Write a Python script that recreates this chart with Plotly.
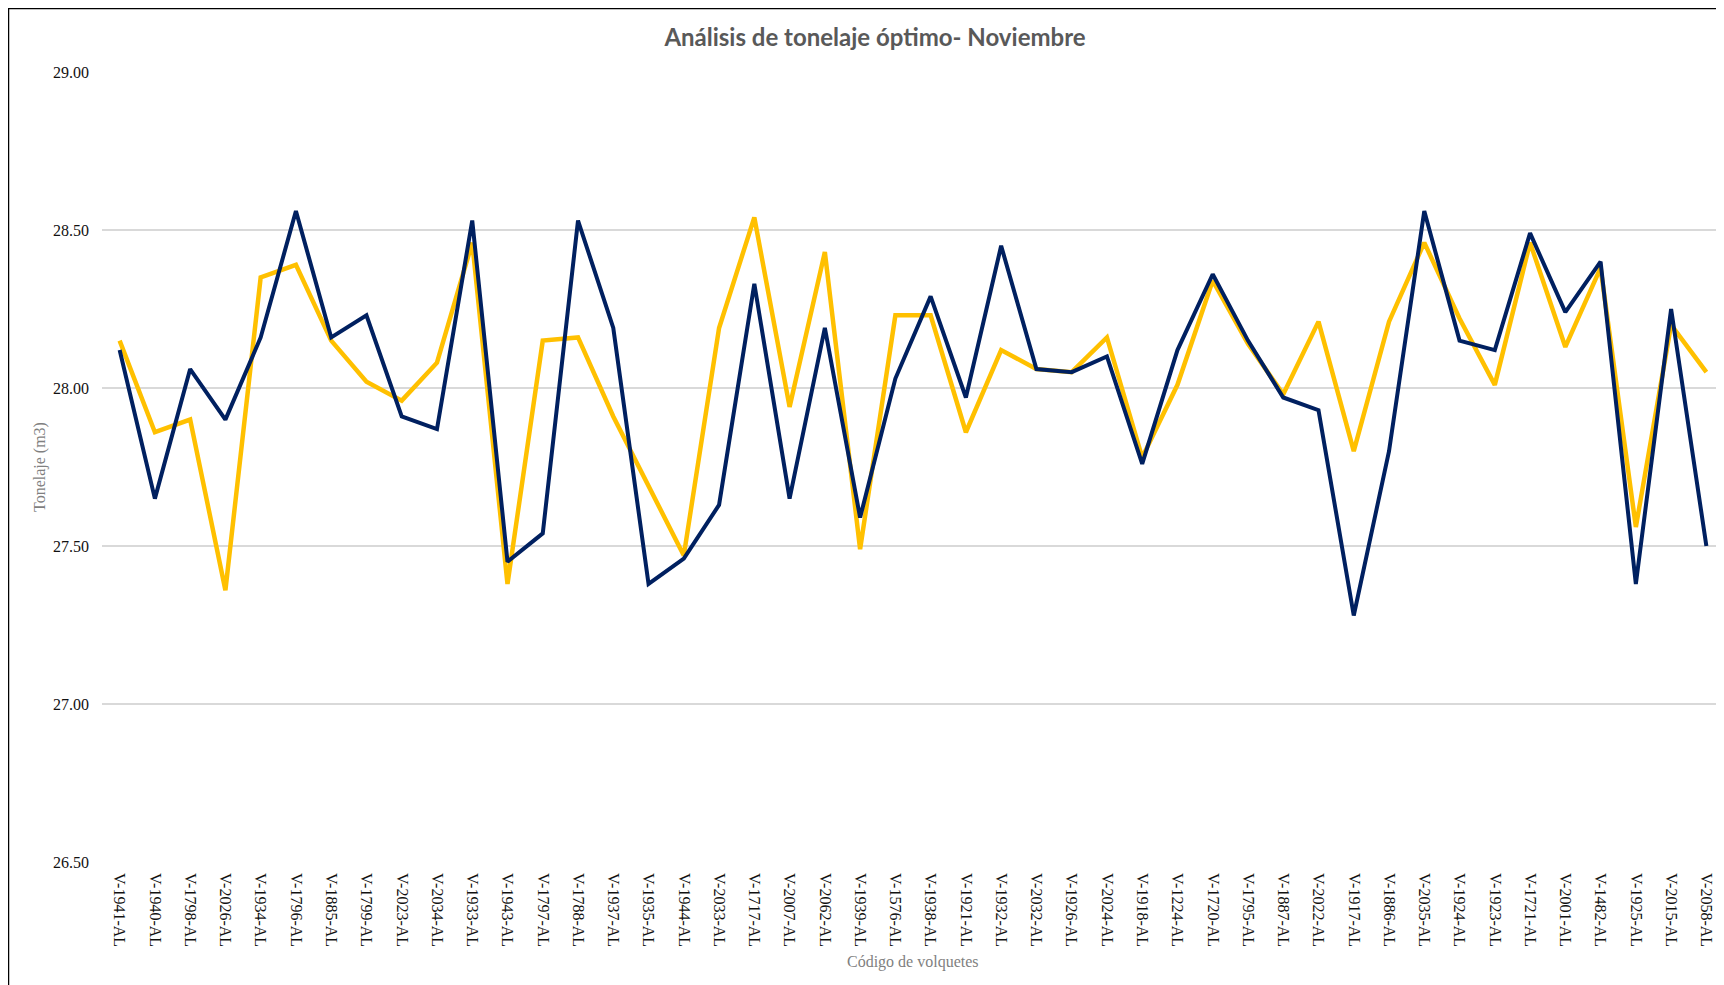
import plotly.graph_objects as go

# codigos de volquetes (eje x)
volquetes = [
    "V-1941-AL", "V-1940-AL", "V-1798-AL", "V-2026-AL", "V-1934-AL", "V-1796-AL",
    "V-1885-AL", "V-1799-AL", "V-2023-AL", "V-2034-AL", "V-1933-AL", "V-1943-AL",
    "V-1797-AL", "V-1788-AL", "V-1937-AL", "V-1935-AL", "V-1944-AL", "V-2033-AL",
    "V-1717-AL", "V-2007-AL", "V-2062-AL", "V-1939-AL", "V-1576-AL", "V-1938-AL",
    "V-1921-AL", "V-1932-AL", "V-2032-AL", "V-1926-AL", "V-2024-AL", "V-1918-AL",
    "V-1224-AL", "V-1720-AL", "V-1795-AL", "V-1887-AL", "V-2022-AL", "V-1917-AL",
    "V-1886-AL", "V-2035-AL", "V-1924-AL", "V-1923-AL", "V-1721-AL", "V-2001-AL",
    "V-1482-AL", "V-1925-AL", "V-2015-AL", "V-2058-AL",
]

# serie amarilla
tonelaje_amarillo = [
    28.15, 27.86, 27.90, 27.36, 28.35, 28.39, 28.15, 28.02, 27.96, 28.08,
    28.46, 27.38, 28.15, 28.16, 27.91, 27.69, 27.47, 28.19, 28.54, 27.94,
    28.43, 27.49, 28.23, 28.23, 27.86, 28.12, 28.06, 28.05, 28.16, 27.78,
    28.01, 28.34, 28.14, 27.98, 28.21, 27.80, 28.21, 28.46, 28.22, 28.01,
    28.46, 28.13, 28.38, 27.56, 28.20, 28.05,
]

# serie azul
tonelaje_azul = [
    28.12, 27.65, 28.06, 27.90, 28.16, 28.56, 28.16, 28.23, 27.91, 27.87,
    28.53, 27.45, 27.54, 28.53, 28.19, 27.38, 27.46, 27.63, 28.33, 27.65,
    28.19, 27.59, 28.03, 28.29, 27.97, 28.45, 28.06, 28.05, 28.10, 27.76,
    28.12, 28.36, 28.15, 27.97, 27.93, 27.28, 27.80, 28.56, 28.15, 28.12,
    28.49, 28.24, 28.40, 27.38, 28.25, 27.50,
]

y_ticks = [26.5, 27.0, 27.5, 28.0, 28.5, 29.0]

# la pagina html deja 8px de margen, asi que la figura es algo mas chica
OFF = 8
W, H = 1724 - OFF, 985 - OFF
L, R, T, B = 102 - OFF, 0, 72 - OFF, 985 - 862
pw, ph = W - L - R, H - T - B


def px_x(x):
    # pixel de pantalla -> coordenada paper
    return (x - OFF - L) / pw


def px_y(y):
    return (T + ph - (y - OFF)) / ph


fig = go.Figure()
fig.add_trace(go.Scatter(
    x=volquetes, y=tonelaje_amarillo, mode="lines",
    line=dict(color="#FFC000", width=4.5), name="Amarillo"
))
fig.add_trace(go.Scatter(
    x=volquetes, y=tonelaje_azul, mode="lines",
    line=dict(color="#002060", width=4), name="Azul"
))

serif = "Liberation Serif"

fig.update_layout(
    width=W, height=H,
    margin=dict(l=L, r=R, t=T, b=B),
    paper_bgcolor="white", plot_bgcolor="white",
    showlegend=False,
    title=dict(
        text="<b>Análisis de tonelaje óptimo- Noviembre</b>",
        font=dict(family="Lato", size=24, color="#595959"),
        xref="container", x=(875 - OFF) / W, xanchor="center",
        yref="container", y=1 - (38 - OFF) / H, yanchor="middle",
    ),
    xaxis=dict(
        tickangle=90, tickfont=dict(family=serif, size=16, color="#111111"),
        showgrid=False, zeroline=False, showline=False, ticks="",
        range=[-0.5, len(volquetes) - 0.5],
        ticklabelstandoff=10,
    ),
    yaxis=dict(
        range=[26.5, 29.0], tickvals=y_ticks, tickformat=".2f",
        tickfont=dict(family=serif, size=16, color="#111111"),
        gridcolor="#d9d9d9", gridwidth=1.5, zeroline=False, showline=False,
        ticklabelstandoff=12,
    ),
    annotations=[
        dict(text="Tonelaje (m3)", textangle=-90, showarrow=False,
             xref="paper", yref="paper", x=px_x(40), y=px_y(467),
             xanchor="center", yanchor="middle",
             font=dict(family=serif, size=16, color="#7f7f7f")),
        dict(text="Código de volquetes", showarrow=False,
             xref="paper", yref="paper", x=px_x(913), y=px_y(962),
             xanchor="center", yanchor="middle",
             font=dict(family=serif, size=16, color="#7f7f7f")),
    ],
    shapes=[
        # marco negro del recorte
        dict(type="line", xref="paper", yref="paper",
             x0=px_x(8), x1=1.01, y0=px_y(8), y1=px_y(8),
             line=dict(color="black", width=2.5)),
        dict(type="line", xref="paper", yref="paper",
             x0=px_x(8), x1=px_x(8), y0=px_y(8), y1=px_y(990),
             line=dict(color="black", width=2.5)),
    ],
)

fig.write_html("out.html")
